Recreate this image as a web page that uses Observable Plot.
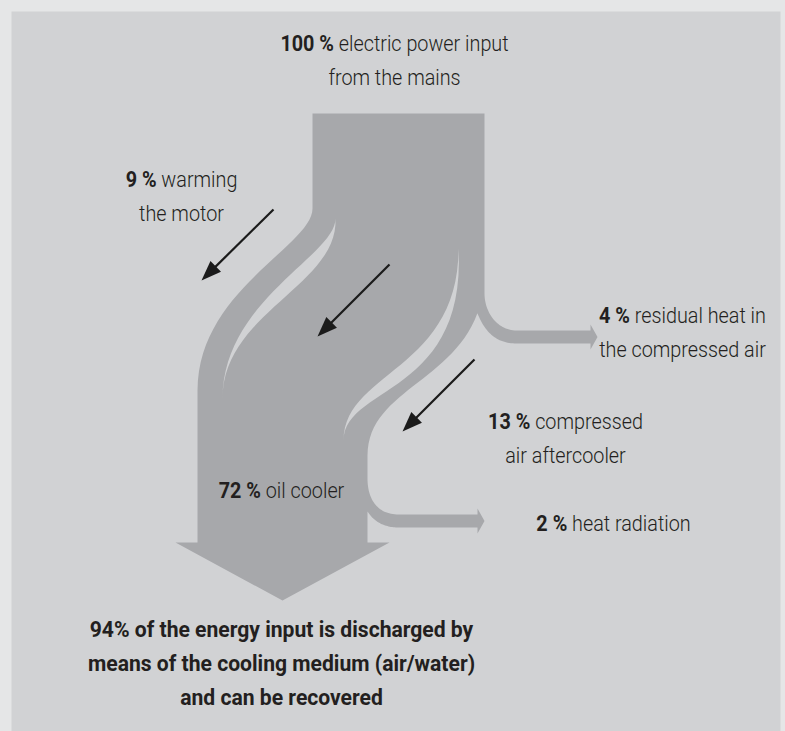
<!DOCTYPE html>
<html>
<head>
<meta charset="utf-8">
<script src="https://cdn.jsdelivr.net/npm/d3@7"></script>
<script src="https://cdn.jsdelivr.net/npm/@observablehq/plot@0.6"></script>
<style>
  html, body { margin: 0; padding: 0; background: #e5e6e7; }
  #chart svg { display: block; }
</style>
</head>
<body>
<div id="chart"></div>
<script>
// ---------------- DATA ----------------
const flowNames = ["electric power input from the mains", "warming the motor", "oil cooler",
  "compressed air aftercooler", "residual heat in the compressed air", "heat radiation"];
const flowPercents = [100, 9, 72, 13, 4, 2];
const labelBold = ["100 %", "9 %", "72 %", "13 %", "4 %", "2 %"];
const labelLine1 = ["electric power input", "warming", "oil cooler", "compressed", "residual heat in", "heat radiation"];
const labelLine2 = ["from the mains", "the motor", "", "air aftercooler", "the compressed air", ""];
const summaryLines = ["94% of the energy input is discharged by",
  "means of the cooling medium (air/water)", "and can be recovered"];

// ---------------- LAYOUT (positions / sizes / styles) ----------------
const W = 785, H = 731;
const COL_SHAPE = "#a7a8ab", COL_PANEL = "#d1d2d4", COL_BG = "#e5e6e7", COL_TEXT = "#231f20";
const FONT = "Roboto, 'Liberation Sans', Arial, sans-serif";
const FS = 22, LH = 34;
const SCALE_REG = 0.9, SCALE_SUM = 0.96;   // condensed look
// label anchors (center x, first baseline y) per flow
const labelAnchor = [[394, 50], [181, 186], [281, 497], [565, 428], [682, 322], [613, 530]];
const summaryAnchor = [281, 636];
// annotation arrows for flows 1..3 (start, tip)
const annotArrows = [
  {flow: 1, from: [273, 209], to: [201, 280]},
  {flow: 2, from: [389, 264], to: [317, 336]},
  {flow: 3, from: [474, 359], to: [402, 431]}
];

function cubic(p0, p1, p2, p3, t0 = 0, t1 = 1, n = 30) {
  const pts = [];
  for (let i = 0; i <= n; i++) {
    const t = t0 + (t1 - t0) * i / n;
    const a = (1 - t) ** 3, b = 3 * t * (1 - t) ** 2, c = 3 * t * t * (1 - t), d = t ** 3;
    pts.push([a * p0[0] + b * p1[0] + c * p2[0] + d * p3[0], a * p0[1] + b * p1[1] + c * p2[1] + d * p3[1]]);
  }
  return pts;
}

// Geometry of the stylised Sankey bands
const col = {x0: 312, x1: 484, top: 113};
const shaft = {x0: 197, x1: 367, base: 542, headL: 175, headR: 389, tipY: 600};
const c13 = [[484, 270], [484, 380], [367, 380], [367, 455]];     // 13 % band outer edge
const cusp4 = cubic(...c13, 0.15, 0.15, 1)[0];
const band4 = {y0: 330, y1: 343, x: 590, tip: 597, flare: 6};
const band2 = {y0: 514, y1: 527, x: 477, tip: 484, flare: 6};

const silhouette = [
  [col.x0, col.top], [col.x1, col.top],
  ...cubic([col.x1, 293], [col.x1, 312], [497, band4.y0], [516, band4.y0]),
  [band4.x, band4.y0], [band4.x, band4.y0 - band4.flare], [band4.tip, (band4.y0 + band4.y1) / 2],
  [band4.x, band4.y1 + band4.flare], [band4.x, band4.y1],
  ...cubic([516, band4.y1], [497, band4.y1], [485, 333], cusp4),
  ...cubic(...c13, 0.15, 1),
  ...cubic([shaft.x1, 478], [shaft.x1, 500], [378, band2.y0], [398, band2.y0]),
  [band2.x, band2.y0], [band2.x, band2.y0 - band2.flare], [band2.tip, (band2.y0 + band2.y1) / 2],
  [band2.x, band2.y1 + band2.flare], [band2.x, band2.y1],
  ...cubic([398, band2.y1], [385, band2.y1], [374, 522], [shaft.x1, 511]),
  [shaft.x1, shaft.base], [shaft.headR, shaft.base], [(shaft.x0 + shaft.x1) / 2, shaft.tipY],
  [shaft.headL, shaft.base], [shaft.x0, shaft.base],
  ...cubic([shaft.x0, 390], [shaft.x0, 290], [col.x0, 245], [col.x0, 208])
].map(([x, y]) => ({x, y, id: "flow"}));

// light gaps between the 9 % / 72 % and 72 % / 13 % bands
function lens(id, left, right) {
  return [...cubic(...left), ...cubic(...right).reverse()].map(([x, y]) => ({x, y, id}));
}
const gaps = [
  ...lens("gap1", [[335, 218], [335, 255], [222, 300], [222, 398]], [[335, 218], [338, 285], [222, 312], [222, 398]]),
  ...lens("gap2", [[458, 248], [458, 370], [343, 371], [343, 440]], [[458, 248], [466, 395], [343, 385], [343, 440]])
];

// annotation arrows: shaft + filled head
const HEAD_L = 20, HEAD_W = 7.5;
const arrowLines = [], arrowHeads = [];
annotArrows.forEach((a, i) => {
  const [x1, y1] = a.from, [x2, y2] = a.to;
  const len = Math.hypot(x2 - x1, y2 - y1), ux = (x2 - x1) / len, uy = (y2 - y1) / len;
  const bx = x2 - ux * HEAD_L, by = y2 - uy * HEAD_L;
  arrowLines.push({x1, y1, x2: bx + ux * 2, y2: by + uy * 2, name: flowNames[a.flow]});
  arrowHeads.push({x: x2, y: y2, id: "h" + i}, {x: bx - uy * HEAD_W, y: by + ux * HEAD_W, id: "h" + i},
    {x: bx + uy * HEAD_W, y: by - ux * HEAD_W, id: "h" + i});
});

// text lines
const textLines = [];
flowNames.forEach((name, i) => {
  const [cx, by] = labelAnchor[i];
  textLines.push({x: cx, y: by, bold: labelBold[i], rest: labelLine1[i], full: labelBold[i] + " " + labelLine1[i]});
  if (labelLine2[i]) textLines.push({x: cx, y: by + LH, bold: "", rest: labelLine2[i], full: labelLine2[i]});
});
const summaryText = summaryLines.map((s, i) => ({x: summaryAnchor[0], y: summaryAnchor[1] + i * LH, full: s}));

const svg = Plot.plot({
  width: W, height: H,
  margin: 0,
  x: {domain: [0, W], range: [0, W], axis: null},
  y: {domain: [0, H], range: [0, H], axis: null},
  style: {background: COL_BG, fontFamily: FONT, color: COL_TEXT},
  marks: [
    Plot.frame({fill: COL_PANEL, stroke: null, insetLeft: 11, insetTop: 11, insetRight: 5, insetBottom: -20}),
    Plot.line(silhouette, {x: "x", y: "y", z: "id", fill: COL_SHAPE, stroke: "none", curve: "linear-closed"}),
    Plot.line(gaps, {x: "x", y: "y", z: "id", fill: COL_PANEL, stroke: "none", curve: "linear-closed"}),
    Plot.link(arrowLines, {x1: "x1", y1: "y1", x2: "x2", y2: "y2", stroke: "#1b1b1b", strokeWidth: 2.2, title: "name"}),
    Plot.line(arrowHeads, {x: "x", y: "y", z: "id", fill: "#1b1b1b", stroke: "none", curve: "linear-closed"}),
    Plot.text(textLines, {x: "x", y: "y", text: "full", textAnchor: "middle", lineAnchor: "bottom",
      fontSize: FS, fontWeight: 300, fill: COL_TEXT, fontFamily: FONT}),
    Plot.text(summaryText, {x: "x", y: "y", text: "full", textAnchor: "middle", lineAnchor: "bottom",
      fontSize: FS, fontWeight: "bold", fill: COL_TEXT, fontFamily: FONT})
  ]
});

// mixed bold / regular within one line, and a condensed horizontal scale
d3.select(svg).selectAll("text").each(function () {
  const t = this.textContent;
  const sel = d3.select(this);
  const isSummary = summaryLines.includes(t);
  const line = textLines.find(l => l.full === t && l.bold);
  if (line) {
    sel.text(null);
    sel.append("tspan").attr("font-weight", 700).text(line.bold);
    sel.append("tspan").text(" " + line.rest);
  }
  const s = isSummary ? SCALE_SUM : SCALE_REG;
  const x = +(this.getAttribute("x") || 0), y = +(this.getAttribute("y") || 0);
  const tr = this.getAttribute("transform") || "";
  sel.attr("transform", `${tr} translate(${x},${y}) scale(${s},1) translate(${-x},${-y})`);
});

document.getElementById("chart").appendChild(svg);
</script>
</body>
</html>
